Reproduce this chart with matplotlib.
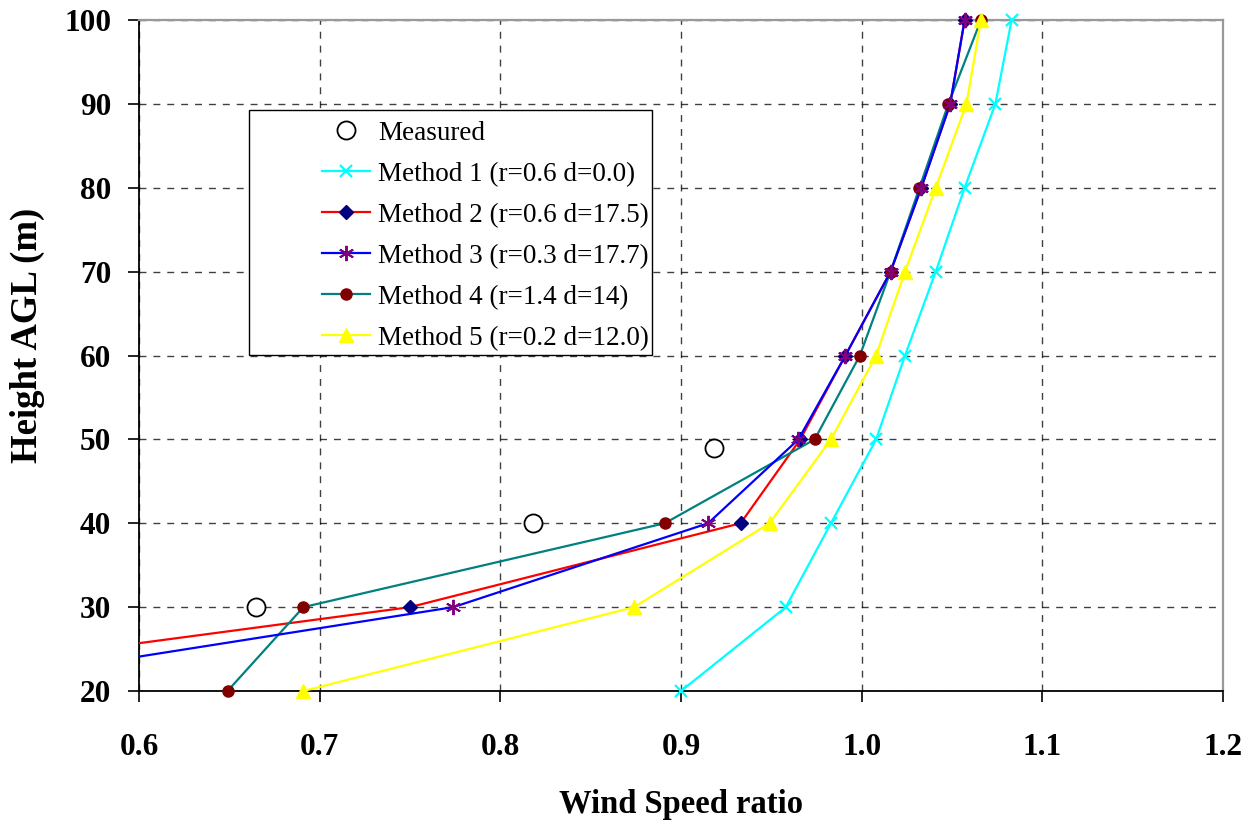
import numpy as np
import matplotlib
matplotlib.use("Agg")
import matplotlib.pyplot as plt
from matplotlib.patches import Rectangle

plt.rcParams["font.family"] = ["Liberation Serif", "DejaVu Serif"]

# ============================================================
#  Data
# ============================================================
heights = [20, 30, 40, 50, 60, 70, 80, 90, 100]

meas_x = [0.665, 0.818, 0.918]
meas_y = [30, 40, 49]

m1 = [0.900, 0.958, 0.983, 1.008, 1.024, 1.041, 1.057, 1.074, 1.083]
m2 = [0.401, 0.750, 0.933, 0.966, 0.991, 1.016, 1.033, 1.049, 1.057]
m3 = [0.479, 0.774, 0.915, 0.965, 0.991, 1.016, 1.033, 1.049, 1.057]
m4 = [0.649, 0.691, 0.891, 0.974, 0.999, 1.016, 1.032, 1.048, 1.066]
m5 = [0.691, 0.874, 0.949, 0.983, 1.008, 1.024, 1.041, 1.058, 1.066]

labels = ["Method 1 (r=0.6 d=0.0)", "Method 2 (r=0.6 d=17.5)",
          "Method 3 (r=0.3 d=17.7)", "Method 4 (r=1.4 d=14)",
          "Method 5 (r=0.2 d=12.0)"]

xticks = [0.6, 0.7, 0.8, 0.9, 1.0, 1.1, 1.2]
xticklabels = ["0.6", "0.7", "0.8", "0.9", "1.0", "1.1", "1.2"]
yticks = [20, 30, 40, 50, 60, 70, 80, 90, 100]
xmin, xmax = 0.6, 1.2

# ============================================================
#  Plot
# ============================================================
fig = plt.figure(figsize=(12.5, 8.24), dpi=100)
ax = fig.add_axes([0.1112, 0.1614, 0.8672, 0.8143])

styles = [
    dict(color="cyan", marker="x", ms=9, mew=1.6, mec="cyan", mfc="cyan"),
    dict(color="red", marker="D", ms=7.5, mew=1, mec="#000080", mfc="#000080"),
    dict(color="blue", marker=(6, 2, 0), ms=11, mew=1.4, mec="#800080", mfc="#800080"),
    dict(color="#008080", marker="o", ms=8, mew=1, mec="#800000", mfc="#800000"),
    dict(color="yellow", marker="^", ms=10, mew=1, mec="yellow", mfc="yellow"),
]
zorders = [3, 3, 4, 3, 3]

handles = []
meas, = ax.plot(meas_x, meas_y, ls="none", marker="o", ms=13, mfc="white",
                mec="black", mew=1.3, label="Measured", zorder=6, clip_on=False)
handles.append(meas)

for xs, st, lab, z in zip([m1, m2, m3, m4, m5], styles, labels, zorders):
    xs = np.array(xs)
    hs = np.array(heights)
    # line (clipped to the axes, like the Excel original)
    ax.plot(xs, hs, color=st["color"], lw=1.6, zorder=z)
    # markers, not clipped at the frame, only those inside the x range
    keep = xs >= xmin
    ax.plot(xs[keep], hs[keep], ls="none", marker=st["marker"], ms=st["ms"],
            mew=st["mew"], mec=st["mec"], mfc=st["mfc"], zorder=z + 1,
            clip_on=False)
    h, = ax.plot([], [], color=st["color"], lw=1.6, marker=st["marker"],
                 ms=st["ms"], mew=st["mew"], mec=st["mec"], mfc=st["mfc"],
                 label=lab)
    handles.append(h)

ax.set_xlim(xmin, xmax)
ax.set_ylim(20, 100)
ax.set_xticks(xticks)
ax.set_xticklabels(xticklabels)
ax.set_yticks(yticks)

ax.grid(True, color="black", ls=(0, (5, 5)), lw=1.0, alpha=0.75)
ax.set_axisbelow(True)

for side in ("top", "right"):
    ax.spines[side].set_color("#999999")
    ax.spines[side].set_linewidth(1.6)
for side in ("left", "bottom"):
    ax.spines[side].set_color("black")
    ax.spines[side].set_linewidth(1.3)

ax.tick_params(axis="both", direction="out", length=8, width=1.2,
               labelsize=22.5)
ax.tick_params(axis="y", pad=12)
ax.tick_params(axis="x", pad=22)
for lab in ax.get_xticklabels() + ax.get_yticklabels():
    lab.set_fontweight("bold")

ax.set_xlabel("Wind Speed ratio", fontsize=23.5, fontweight="bold", labelpad=20)
ax.set_ylabel("Height AGL (m)", fontsize=26.5, fontweight="bold")
ax.yaxis.set_label_coords(-0.0867, 0.5306)

# legend frame drawn separately (Excel style padding)
ax.add_patch(Rectangle((0.1015, 0.5007), 0.3717, 0.3652,
                       transform=ax.transAxes, fill=True, fc="white",
                       ec="black", lw=1.0, zorder=7))
leg = ax.legend(handles=handles, loc="upper left",
                bbox_to_anchor=(0.1688, 0.850),
                fontsize=19.5, frameon=False, borderpad=0, labelspacing=0.59,
                handlelength=1.78, handletextpad=0.3, borderaxespad=0)
leg.set_zorder(8)

fig.savefig("out.png", dpi=100)
